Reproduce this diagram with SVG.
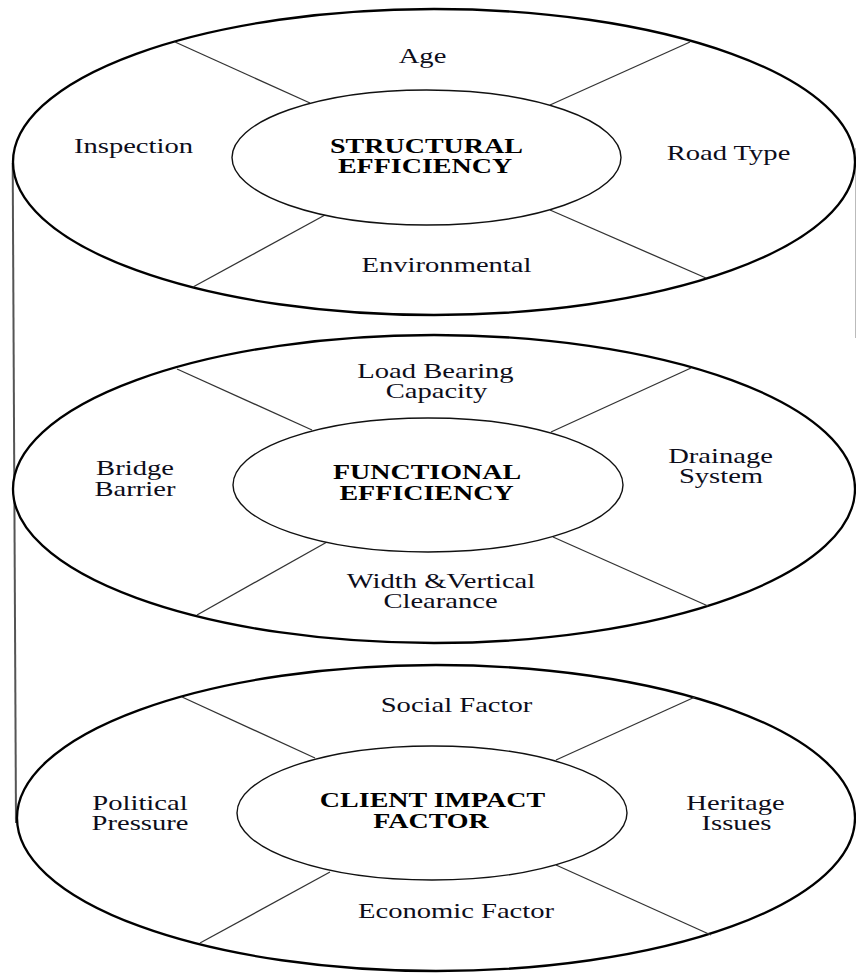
<svg xmlns="http://www.w3.org/2000/svg" width="856" height="973" viewBox="0 0 856 973">
  <style>
    .outer { fill: #fff; stroke: #000; stroke-width: 2.3; }
    .inner { fill: #fff; stroke: #111; stroke-width: 1.4; }
    .div { stroke: #333; stroke-width: 1.3; fill: none; }
    .side { stroke: #555; stroke-width: 2; fill: none; }
    .side-faint { stroke: #bbb; stroke-width: 1; fill: none; }
    text { font-family: "Liberation Serif", "Times New Roman", serif; font-size: 20px; fill: #0d0d1a; text-anchor: middle; }
    .hub { font-weight: bold; fill: #000; }
  </style>
  <rect width="856" height="973" fill="#fff"/>

  <!-- cylinder sides -->
  <g id="connectors">
    <line class="side" x1="12.7" y1="163" x2="16" y2="823"/>
    <line class="side-faint" x1="855.5" y1="148" x2="855.5" y2="338"/>
  </g>

  <!-- top disc -->
  <g id="structural">
    <ellipse class="outer" cx="434" cy="162" rx="421" ry="153"/>
    <line class="div" x1="175" y1="42" x2="310" y2="103"/>
    <line class="div" x1="325" y1="215" x2="193" y2="287"/>
    <line class="div" x1="550" y1="105" x2="690" y2="42"/>
    <line class="div" x1="550" y1="210" x2="706" y2="278"/>
    <ellipse class="inner" cx="426.5" cy="157.5" rx="194.5" ry="67.5"/>
    <text transform="translate(422.5,63) scale(1.43,1)">Age</text>
    <text transform="translate(133.5,153) scale(1.43,1)">Inspection</text>
    <text transform="translate(728.5,160) scale(1.43,1)">Road Type</text>
    <text transform="translate(446.5,272) scale(1.43,1)">Environmental</text>
    <text class="hub" transform="translate(426.5,153) scale(1.4,1)">STRUCTURAL</text>
    <text class="hub" transform="translate(425,173) scale(1.4,1)">EFFICIENCY</text>
  </g>

  <!-- middle disc -->
  <g id="functional">
    <ellipse class="outer" cx="434" cy="489" rx="421" ry="154"/>
    <line class="div" x1="177" y1="369" x2="312" y2="430"/>
    <line class="div" x1="327" y1="542" x2="197" y2="615"/>
    <line class="div" x1="551" y1="432" x2="691" y2="368"/>
    <line class="div" x1="553" y1="537" x2="708" y2="606"/>
    <ellipse class="inner" cx="428" cy="485" rx="195" ry="67"/>
    <text transform="translate(435.5,378) scale(1.43,1)">Load Bearing</text>
    <text transform="translate(436.5,398) scale(1.43,1)">Capacity</text>
    <text transform="translate(135,475) scale(1.43,1)">Bridge</text>
    <text transform="translate(135,496) scale(1.43,1)">Barrier</text>
    <text transform="translate(720.5,463) scale(1.43,1)">Drainage</text>
    <text transform="translate(721,483) scale(1.43,1)">System</text>
    <text transform="translate(441,588) scale(1.43,1)">Width &amp;Vertical</text>
    <text transform="translate(440.5,608) scale(1.43,1)">Clearance</text>
    <text class="hub" transform="translate(427,479) scale(1.4,1)">FUNCTIONAL</text>
    <text class="hub" transform="translate(426.5,500) scale(1.4,1)">EFFICIENCY</text>
  </g>

  <!-- bottom disc -->
  <g id="client-impact">
    <ellipse class="outer" cx="436" cy="818" rx="419" ry="153"/>
    <line class="div" x1="182" y1="697" x2="315" y2="758"/>
    <line class="div" x1="330" y1="872" x2="200" y2="943"/>
    <line class="div" x1="556" y1="760" x2="695" y2="697"/>
    <line class="div" x1="556" y1="865" x2="711" y2="935"/>
    <ellipse class="inner" cx="432" cy="813" rx="195" ry="67"/>
    <text transform="translate(456.5,712) scale(1.43,1)">Social Factor</text>
    <text transform="translate(140,810) scale(1.43,1)">Political</text>
    <text transform="translate(140,830) scale(1.43,1)">Pressure</text>
    <text transform="translate(735.5,810) scale(1.43,1)">Heritage</text>
    <text transform="translate(736.5,830) scale(1.43,1)">Issues</text>
    <text transform="translate(456,918) scale(1.43,1)">Economic Factor</text>
    <text class="hub" transform="translate(432.5,807) scale(1.4,1)">CLIENT IMPACT</text>
    <text class="hub" transform="translate(431,828) scale(1.4,1)">FACTOR</text>
  </g>
</svg>
